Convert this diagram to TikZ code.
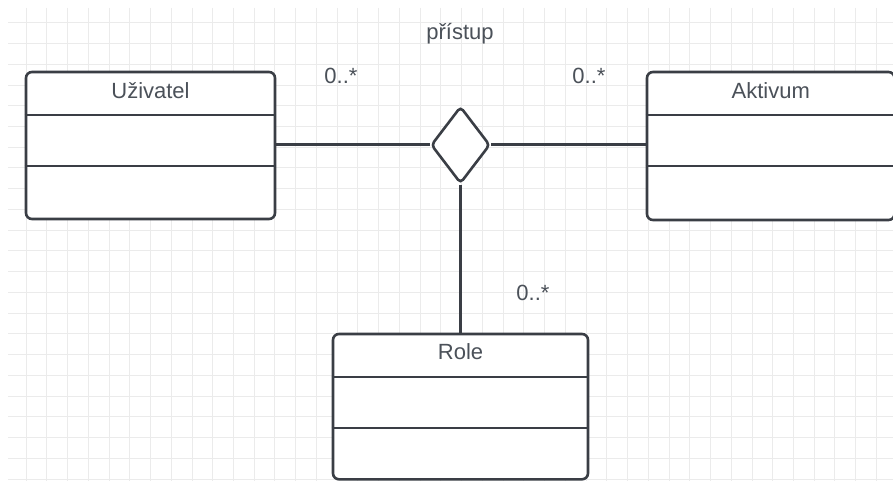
\documentclass[tikz,border=0pt]{standalone}
\usepackage{fontspec}
\setmainfont{Liberation Sans}
\usetikzlibrary{shapes.geometric, calc, positioning}

\definecolor{umlline}{HTML}{3A3E45}
\definecolor{umltext}{HTML}{4B5159}
\definecolor{gridgray}{HTML}{EBEBEB}

\tikzset{
  classbox/.style={draw=umlline, line width=2.6pt, rounded corners=6pt, fill=white, inner sep=0pt},
  relation/.style={diamond, draw=umlline, line width=2.6pt, rounded corners=4pt, fill=white,
    inner sep=0pt, minimum width=59pt, minimum height=77pt},
  assoc/.style={draw=umlline, line width=3pt},
  divider/.style={draw=umlline, line width=2.4pt},
  lbl/.style={text=umltext, font=\fontsize{22}{26}\selectfont, inner sep=0pt, anchor=base},
  gridline/.style={draw=gridgray, line width=0.8pt}
}

\begin{document}
\begin{tikzpicture}[x=1pt, y=-1pt]
  \useasboundingbox (0,0) rectangle (893,481);
  \fill[white] (0,0) rectangle (893,481);

  % background grid
  \foreach \i in {1,...,42}
    \draw[gridline] ({5.26+20.74*\i},8) -- ({5.26+20.74*\i},481);
  \foreach \k in {1,...,23}
    \draw[gridline] (8,{1.96+20.74*\k}) -- (893,{1.96+20.74*\k});

  % classes
  \node[classbox, minimum width=249pt, minimum height=147pt] (user) at (150.5,145.5) {};
  \node[classbox, minimum width=247.5pt, minimum height=148pt] (asset) at (770.75,146) {};
  \node[classbox, minimum width=255pt, minimum height=145.3pt] (role) at (460.5,406.65) {};

  \node[lbl, below=28pt of user.north, anchor=base] (userT) {Uživatel};
  \node[lbl, below=28pt of asset.north, anchor=base] (assetT) {Aktivum};
  \node[lbl, below=27pt of role.north, anchor=base] (roleT) {Role};

  \foreach \c in {user, asset, role} {
    \draw[divider] ($(\c.north west)+(0,44.5)$) -- ($(\c.north east)+(0,44.5)$);
    \draw[divider] ($(\c.north west)+(0,95.5)$) -- ($(\c.north east)+(0,95.5)$);
  }

  % n-ary association
  \node[relation] (rel) at (460.5,145) {};
  \draw[assoc] (user.east |- rel.west) -- (rel.west);
  \draw[assoc] (rel.east) -- (asset.west |- rel.east);
  \draw[assoc] (rel.south) -- (role.north);

  % labels
  \node[lbl] (relT) at (460,40) {přístup};
  \node[lbl] (multUser) at (341,83.3) {0..*};
  \node[lbl] (multAsset) at (589,83.3) {0..*};
  \node[lbl] (multRole) at (533,300) {0..*};
\end{tikzpicture}
\end{document}
